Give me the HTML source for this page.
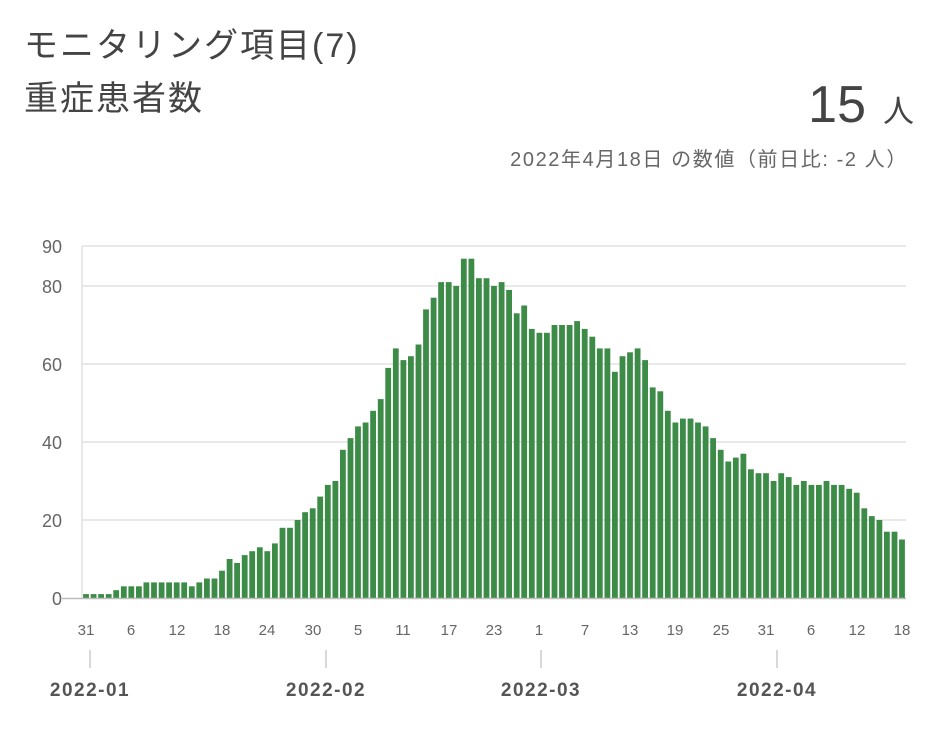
<!DOCTYPE html>
<html><head><meta charset="utf-8"><style>
html,body{margin:0;padding:0;background:#fff;width:936px;height:736px;overflow:hidden}
svg{display:block}
text{font-family:"Liberation Sans","Noto Sans CJK JP",sans-serif}
</style></head><body>
<svg width="936" height="736" viewBox="0 0 936 736" xmlns="http://www.w3.org/2000/svg">
<text x="24" y="57" font-size="34" letter-spacing="2" fill="#444">モニタリング項目(7)</text>
<text x="24" y="110" font-size="34" letter-spacing="2" fill="#444">重症患者数</text>
<text x="866" y="122" font-size="52" fill="#444" text-anchor="end">15</text>
<text x="914" y="122" font-size="31" fill="#444" text-anchor="end">人</text>
<text x="908" y="166" font-size="20" letter-spacing="1.6" fill="#666" text-anchor="end">2022年4月18日 の数値（前日比: -2 人）</text>
<g stroke="#e2e2e2" stroke-width="1.5">
<line x1="82" y1="246" x2="906" y2="246"/>
<line x1="82" y1="286" x2="906" y2="286"/>
<line x1="82" y1="364" x2="906" y2="364"/>
<line x1="82" y1="442" x2="906" y2="442"/>
<line x1="82" y1="520" x2="906" y2="520"/>
<line x1="82" y1="246" x2="82" y2="598"/>
</g>
<g font-size="18" fill="#666" text-anchor="end">
<text x="62" y="253">90</text><text x="62" y="293">80</text><text x="62" y="371">60</text>
<text x="62" y="449">40</text><text x="62" y="527">20</text><text x="62" y="605">0</text>
</g>
<g fill="#3c8c48" transform="translate(0,598) scale(1,-3.9)">
<rect x="83.1" y="0" width="5.8" height="1"/>
<rect x="90.7" y="0" width="5.8" height="1"/>
<rect x="98.2" y="0" width="5.8" height="1"/>
<rect x="105.8" y="0" width="5.8" height="1"/>
<rect x="113.3" y="0" width="5.8" height="2"/>
<rect x="120.9" y="0" width="5.8" height="3"/>
<rect x="128.4" y="0" width="5.8" height="3"/>
<rect x="136.0" y="0" width="5.8" height="3"/>
<rect x="143.5" y="0" width="5.8" height="4"/>
<rect x="151.1" y="0" width="5.8" height="4"/>
<rect x="158.7" y="0" width="5.8" height="4"/>
<rect x="166.2" y="0" width="5.8" height="4"/>
<rect x="173.8" y="0" width="5.8" height="4"/>
<rect x="181.3" y="0" width="5.8" height="4"/>
<rect x="188.9" y="0" width="5.8" height="3"/>
<rect x="196.4" y="0" width="5.8" height="4"/>
<rect x="204.0" y="0" width="5.8" height="5"/>
<rect x="211.6" y="0" width="5.8" height="5"/>
<rect x="219.1" y="0" width="5.8" height="7"/>
<rect x="226.7" y="0" width="5.8" height="10"/>
<rect x="234.2" y="0" width="5.8" height="9"/>
<rect x="241.8" y="0" width="5.8" height="11"/>
<rect x="249.3" y="0" width="5.8" height="12"/>
<rect x="256.9" y="0" width="5.8" height="13"/>
<rect x="264.4" y="0" width="5.8" height="12"/>
<rect x="272.0" y="0" width="5.8" height="14"/>
<rect x="279.6" y="0" width="5.8" height="18"/>
<rect x="287.1" y="0" width="5.8" height="18"/>
<rect x="294.7" y="0" width="5.8" height="20"/>
<rect x="302.2" y="0" width="5.8" height="22"/>
<rect x="309.8" y="0" width="5.8" height="23"/>
<rect x="317.3" y="0" width="5.8" height="26"/>
<rect x="324.9" y="0" width="5.8" height="29"/>
<rect x="332.5" y="0" width="5.8" height="30"/>
<rect x="340.0" y="0" width="5.8" height="38"/>
<rect x="347.6" y="0" width="5.8" height="41"/>
<rect x="355.1" y="0" width="5.8" height="44"/>
<rect x="362.7" y="0" width="5.8" height="45"/>
<rect x="370.2" y="0" width="5.8" height="48"/>
<rect x="377.8" y="0" width="5.8" height="51"/>
<rect x="385.3" y="0" width="5.8" height="59"/>
<rect x="392.9" y="0" width="5.8" height="64"/>
<rect x="400.5" y="0" width="5.8" height="61"/>
<rect x="408.0" y="0" width="5.8" height="62"/>
<rect x="415.6" y="0" width="5.8" height="65"/>
<rect x="423.1" y="0" width="5.8" height="74"/>
<rect x="430.7" y="0" width="5.8" height="77"/>
<rect x="438.2" y="0" width="5.8" height="81"/>
<rect x="445.8" y="0" width="5.8" height="81"/>
<rect x="453.3" y="0" width="5.8" height="80"/>
<rect x="460.9" y="0" width="5.8" height="87"/>
<rect x="468.5" y="0" width="5.8" height="87"/>
<rect x="476.0" y="0" width="5.8" height="82"/>
<rect x="483.6" y="0" width="5.8" height="82"/>
<rect x="491.1" y="0" width="5.8" height="80"/>
<rect x="498.7" y="0" width="5.8" height="81"/>
<rect x="506.2" y="0" width="5.8" height="79"/>
<rect x="513.8" y="0" width="5.8" height="73"/>
<rect x="521.3" y="0" width="5.8" height="75"/>
<rect x="528.9" y="0" width="5.8" height="69"/>
<rect x="536.5" y="0" width="5.8" height="68"/>
<rect x="544.0" y="0" width="5.8" height="68"/>
<rect x="551.6" y="0" width="5.8" height="70"/>
<rect x="559.1" y="0" width="5.8" height="70"/>
<rect x="566.7" y="0" width="5.8" height="70"/>
<rect x="574.2" y="0" width="5.8" height="71"/>
<rect x="581.8" y="0" width="5.8" height="69"/>
<rect x="589.4" y="0" width="5.8" height="67"/>
<rect x="596.9" y="0" width="5.8" height="64"/>
<rect x="604.5" y="0" width="5.8" height="64"/>
<rect x="612.0" y="0" width="5.8" height="58"/>
<rect x="619.6" y="0" width="5.8" height="62"/>
<rect x="627.1" y="0" width="5.8" height="63"/>
<rect x="634.7" y="0" width="5.8" height="64"/>
<rect x="642.2" y="0" width="5.8" height="61"/>
<rect x="649.8" y="0" width="5.8" height="54"/>
<rect x="657.4" y="0" width="5.8" height="53"/>
<rect x="664.9" y="0" width="5.8" height="48"/>
<rect x="672.5" y="0" width="5.8" height="45"/>
<rect x="680.0" y="0" width="5.8" height="46"/>
<rect x="687.6" y="0" width="5.8" height="46"/>
<rect x="695.1" y="0" width="5.8" height="45"/>
<rect x="702.7" y="0" width="5.8" height="44"/>
<rect x="710.2" y="0" width="5.8" height="41"/>
<rect x="717.8" y="0" width="5.8" height="38"/>
<rect x="725.4" y="0" width="5.8" height="35"/>
<rect x="732.9" y="0" width="5.8" height="36"/>
<rect x="740.5" y="0" width="5.8" height="37"/>
<rect x="748.0" y="0" width="5.8" height="33"/>
<rect x="755.6" y="0" width="5.8" height="32"/>
<rect x="763.1" y="0" width="5.8" height="32"/>
<rect x="770.7" y="0" width="5.8" height="30"/>
<rect x="778.3" y="0" width="5.8" height="32"/>
<rect x="785.8" y="0" width="5.8" height="31"/>
<rect x="793.4" y="0" width="5.8" height="29"/>
<rect x="800.9" y="0" width="5.8" height="30"/>
<rect x="808.5" y="0" width="5.8" height="29"/>
<rect x="816.0" y="0" width="5.8" height="29"/>
<rect x="823.6" y="0" width="5.8" height="30"/>
<rect x="831.1" y="0" width="5.8" height="29"/>
<rect x="838.7" y="0" width="5.8" height="29"/>
<rect x="846.3" y="0" width="5.8" height="28"/>
<rect x="853.8" y="0" width="5.8" height="27"/>
<rect x="861.4" y="0" width="5.8" height="23"/>
<rect x="868.9" y="0" width="5.8" height="21"/>
<rect x="876.5" y="0" width="5.8" height="20"/>
<rect x="884.0" y="0" width="5.8" height="17"/>
<rect x="891.6" y="0" width="5.8" height="17"/>
<rect x="899.1" y="0" width="5.8" height="15"/>
</g>
<line x1="62" y1="598.5" x2="906" y2="598.5" stroke="#bbb" stroke-width="1.5"/>
<g font-size="15" fill="#666" text-anchor="middle">
<text x="86" y="635">31</text><text x="131" y="635">6</text><text x="177" y="635">12</text><text x="222" y="635">18</text><text x="267" y="635">24</text><text x="313" y="635">30</text><text x="358" y="635">5</text><text x="403" y="635">11</text><text x="449" y="635">17</text><text x="494" y="635">23</text><text x="539" y="635">1</text><text x="585" y="635">7</text><text x="630" y="635">13</text><text x="675" y="635">19</text><text x="721" y="635">25</text><text x="766" y="635">31</text><text x="811" y="635">6</text><text x="857" y="635">12</text><text x="902" y="635">18</text>
</g>
<g stroke="#ccc" stroke-width="1.5">
<line x1="90" y1="650" x2="90" y2="668"/><line x1="326" y1="650" x2="326" y2="668"/>
<line x1="541" y1="650" x2="541" y2="668"/><line x1="777" y1="650" x2="777" y2="668"/>
</g>
<g font-size="19" font-weight="bold" letter-spacing="1.5" fill="#555" text-anchor="middle">
<text x="90" y="696">2022-01</text><text x="326" y="696">2022-02</text>
<text x="541" y="696">2022-03</text><text x="777" y="696">2022-04</text>
</g>
</svg>
</body></html>
